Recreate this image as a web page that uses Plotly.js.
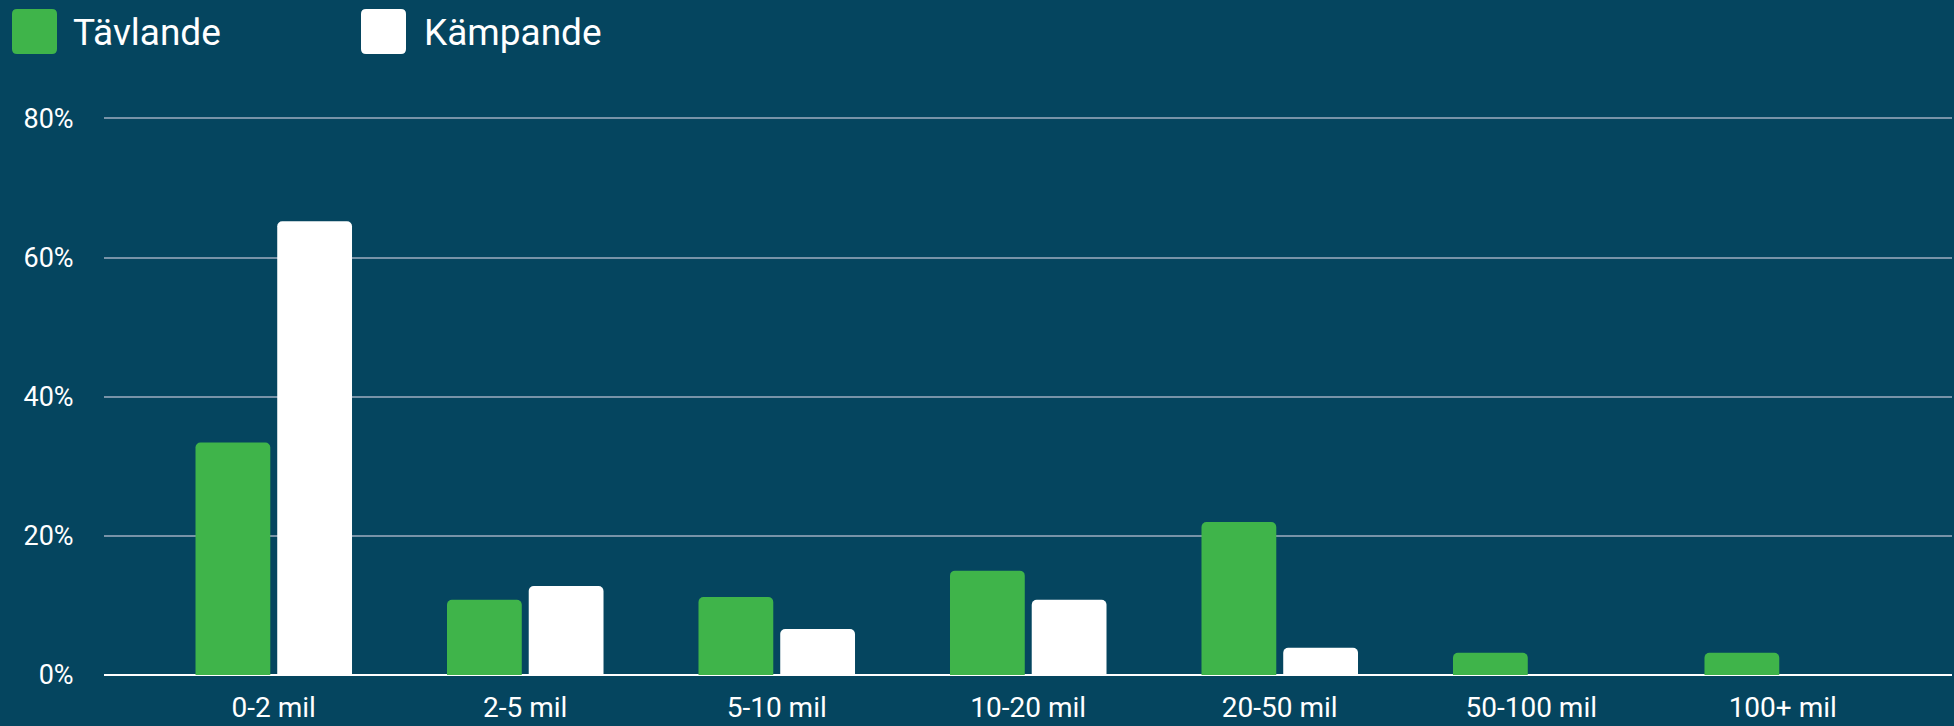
<!DOCTYPE html>
<html>
<head>
<meta charset="utf-8">
<script src="https://cdn.plot.ly/plotly-3.0.1.min.js"></script>
<style>
  html, body { margin: 0; padding: 0; background: #05455F; }
  #chart { width: 1954px; height: 726px; }
</style>
</head>
<body>
<div id="chart"></div>
<script>
// ---- data ----
const categories = ["0-2 mil", "2-5 mil", "5-10 mil", "10-20 mil", "20-50 mil", "50-100 mil", "100+ mil"];
const seriesNames = ["Tävlande", "Kämpande"];
const tavlande = [33.4, 10.8, 11.2, 15.0, 22.0, 3.2, 3.2];
const kampande = [65.2, 12.8, 6.6, 10.8, 3.9, 0, 0];
const yTickValues = [0, 20, 40, 60, 80];
const yTickLabels = ["0%", "20%", "40%", "60%", "80%"];

// ---- styles ----
const BG = "#05455F";
const GREEN = "#3FB44A";
const WHITE = "#FFFFFF";
const GRID = "#7893A8";
const FONT = "Roboto, 'Open Sans', sans-serif";

const W = 1954, H = 726;
const M = { l: 104, r: 2, t: 117, b: 51 };
const plotW = W - M.l - M.r;
const plotH = H - M.t - M.b;

function px2paperX(px) { return (px - M.l) / plotW; }
function px2paperY(py) { return (H - M.b - py) / plotH; }

function roundedRectPath(x0, y0, x1, y1, r) {
  const X = px2paperX, Y = px2paperY;
  return "M" + X(x0 + r) + "," + Y(y0) +
    " L" + X(x1 - r) + "," + Y(y0) +
    " Q" + X(x1) + "," + Y(y0) + " " + X(x1) + "," + Y(y0 + r) +
    " L" + X(x1) + "," + Y(y1 - r) +
    " Q" + X(x1) + "," + Y(y1) + " " + X(x1 - r) + "," + Y(y1) +
    " L" + X(x0 + r) + "," + Y(y1) +
    " Q" + X(x0) + "," + Y(y1) + " " + X(x0) + "," + Y(y1 - r) +
    " L" + X(x0) + "," + Y(y0 + r) +
    " Q" + X(x0) + "," + Y(y0) + " " + X(x0 + r) + "," + Y(y0) + " Z";
}

const legendItems = [
  { name: seriesNames[0], color: GREEN, box: [12, 9, 57, 54], textX: 71 },
  { name: seriesNames[1], color: WHITE, box: [361, 9, 406, 54], textX: 422 }
];

const shapes = legendItems.map(it => ({
  type: "path",
  xref: "paper", yref: "paper",
  path: roundedRectPath(it.box[0], it.box[1], it.box[2], it.box[3], 5),
  fillcolor: it.color,
  line: { width: 0 },
  layer: "above"
}));

const annotations = legendItems.map(it => ({
  xref: "paper", yref: "paper",
  x: px2paperX(it.textX), y: px2paperY(32),
  xanchor: "left", yanchor: "middle",
  text: it.name,
  showarrow: false,
  font: { family: FONT, size: 37, color: WHITE }
}));

const traces = [
  {
    type: "bar", name: seriesNames[0], x: categories, y: tavlande,
    marker: { color: GREEN, cornerradius: 5, line: { width: 0 } },
    hoverinfo: "none"
  },
  {
    type: "bar", name: seriesNames[1], x: categories, y: kampande,
    marker: { color: WHITE, cornerradius: 5, line: { width: 0 } },
    hoverinfo: "none"
  }
];

const layout = {
  width: W, height: H,
  margin: M,
  paper_bgcolor: BG,
  plot_bgcolor: BG,
  showlegend: false,
  barmode: "group",
  bargap: 0.35,
  bargroupgap: 0.085,
  font: { family: FONT, color: WHITE, size: 27 },
  xaxis: {
    type: "category",
    range: [-0.675, 6.673],
    showgrid: false,
    showline: false,
    zeroline: false,
    ticks: "outside", ticklen: 7, tickcolor: "rgba(0,0,0,0)",
    tickfont: { family: FONT, size: 28, color: WHITE },
    fixedrange: true
  },
  yaxis: {
    range: [0, 80.2],
    tickvals: yTickValues,
    ticktext: yTickLabels,
    showgrid: true, gridcolor: GRID, gridwidth: 2,
    zeroline: true, zerolinecolor: WHITE, zerolinewidth: 2,
    showline: false,
    ticks: "outside", ticklen: 24, tickcolor: "rgba(0,0,0,0)",
    tickfont: { family: FONT, size: 27, color: WHITE },
    fixedrange: true
  },
  shapes: shapes,
  annotations: annotations
};

Plotly.newPlot("chart", traces, layout, { displayModeBar: false, staticPlot: true });
</script>
</body>
</html>
